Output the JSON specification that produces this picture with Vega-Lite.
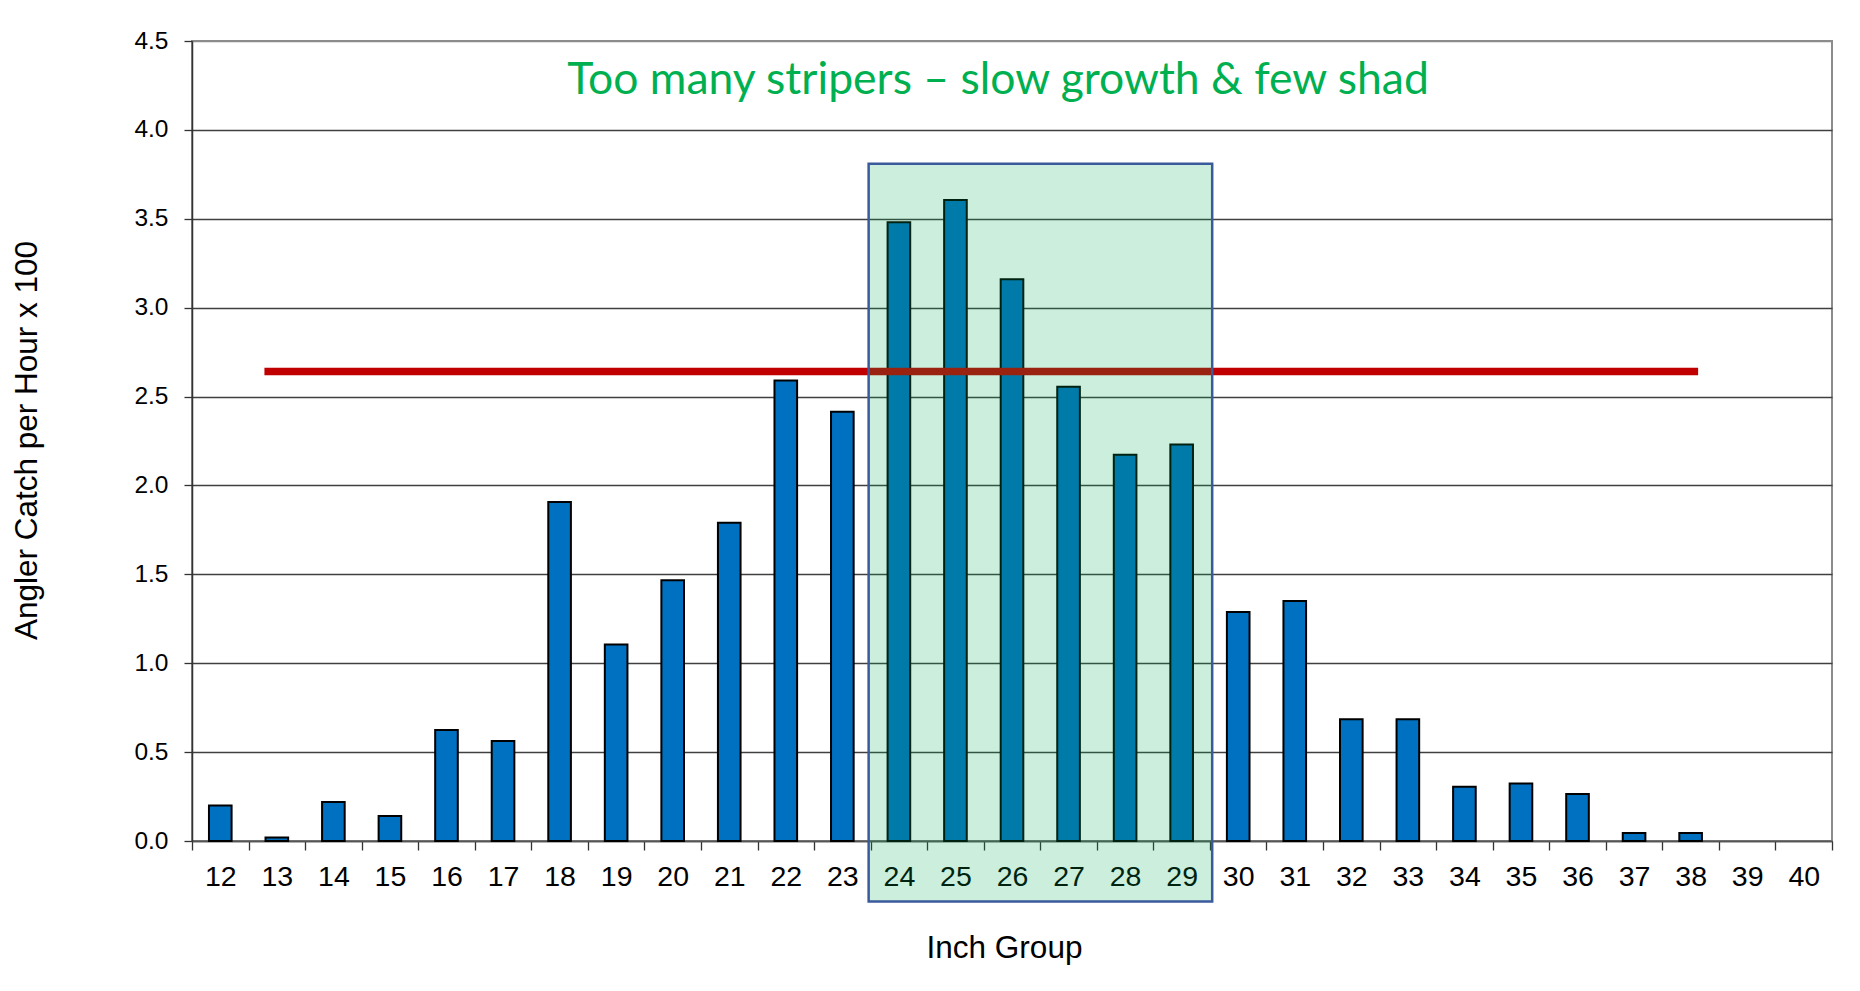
{
  "$schema": "https://vega.github.io/schema/vega-lite/v6.json",
  "width": 1640,
  "height": 800,
  "autosize": {"type": "none"},
  "padding": {"left": 192, "top": 41, "right": 28, "bottom": 150},
  "background": "white",
  "config": {
    "view": {"stroke": "#8c8c8c", "strokeWidth": 2},
    "font": "Liberation Sans, Arial, sans-serif"
  },
  "data": {
    "values": [
      {"inch": 12, "catch": 0.20},
      {"inch": 13, "catch": 0.02},
      {"inch": 14, "catch": 0.22},
      {"inch": 15, "catch": 0.14},
      {"inch": 16, "catch": 0.624},
      {"inch": 17, "catch": 0.562},
      {"inch": 18, "catch": 1.907},
      {"inch": 19, "catch": 1.105},
      {"inch": 20, "catch": 1.467},
      {"inch": 21, "catch": 1.79},
      {"inch": 22, "catch": 2.59},
      {"inch": 23, "catch": 2.414},
      {"inch": 24, "catch": 3.48},
      {"inch": 25, "catch": 3.605},
      {"inch": 26, "catch": 3.16},
      {"inch": 27, "catch": 2.555},
      {"inch": 28, "catch": 2.173},
      {"inch": 29, "catch": 2.231},
      {"inch": 30, "catch": 1.288},
      {"inch": 31, "catch": 1.35},
      {"inch": 32, "catch": 0.685},
      {"inch": 33, "catch": 0.685},
      {"inch": 34, "catch": 0.305},
      {"inch": 35, "catch": 0.324},
      {"inch": 36, "catch": 0.264},
      {"inch": 37, "catch": 0.045},
      {"inch": 38, "catch": 0.045},
      {"inch": 39, "catch": 0},
      {"inch": 40, "catch": 0}
    ]
  },
  "layer": [
    {
      "mark": {"type": "bar", "fill": "#0070C0", "stroke": "#000000", "width": {"band": 0.4}},
      "encoding": {
        "x": {
          "field": "inch",
          "type": "ordinal",
          "sort": null,
          "title": "Inch Group",
          "scale": {"paddingInner": 0, "paddingOuter": 0},
          "axis": {
            "labelAngle": 0,
            "labelFontSize": 28.5,
            "labelColor": "#000000",
            "labelPadding": 12.5,
            "tickSize": 9,
            "tickBand": "extent",
            "tickColor": "#333333",
            "tickWidth": 1.3,
            "domainColor": "#555555",
            "domainWidth": 1.5,
            "grid": false,
            "titleFontSize": 31.5,
            "titleFontWeight": "normal",
            "titleColor": "#000000",
            "titleX": 812,
            "titleY": 116.6,
            "titleBaseline": "alphabetic",
            "titleAlign": "center"
          }
        },
        "y": {
          "field": "catch",
          "type": "quantitative",
          "title": "Angler Catch per Hour x 100",
          "scale": {"domain": [0, 4.5], "nice": false, "zero": true},
          "axis": {
            "values": [0, 0.5, 1, 1.5, 2, 2.5, 3, 3.5, 4, 4.5],
            "format": ".1f",
            "labelFontSize": 24.5,
            "labelColor": "#000000",
            "labelPadding": 16,
            "tickSize": 8,
            "tickColor": "#333333",
            "tickWidth": 1.3,
            "domainColor": "#333333",
            "domainWidth": 1.5,
            "grid": true,
            "gridColor": {"condition": {"test": "datum.value >= 4.5", "value": "#8c8c8c"}, "value": "#404040"},
            "gridWidth": 1.3,
            "titleFontSize": 31.5,
            "titleFontWeight": "normal",
            "titleColor": "#000000",
            "titleAngle": -90,
            "titleX": -165,
            "titleY": 399,
            "titleBaseline": "middle",
            "titleAlign": "center"
          }
        },
        "strokeWidth": {"condition": {"test": "datum.catch == 0", "value": 0}, "value": 2}
      }
    },
    {
      "data": {"values": [{}]},
      "mark": {"type": "rule", "color": "#C00000", "strokeWidth": 7.3, "strokeCap": "butt", "xOffset": -12.4, "x2Offset": 7.5},
      "encoding": {
        "x": {"datum": 13, "type": "ordinal"},
        "x2": {"datum": 38},
        "y": {"datum": 2.641, "type": "quantitative"}
      }
    },
    {
      "data": {"values": [{}]},
      "mark": {"type": "text", "font": "Lato", "fontSize": 44.5, "color": "#00B050", "baseline": "alphabetic", "align": "center", "dx": -14},
      "encoding": {
        "x": {"datum": 26, "type": "ordinal"},
        "y": {"datum": 4.204, "type": "quantitative"},
        "text": {"value": "Too many stripers – slow growth & few shad"}
      }
    },
    {
      "data": {"values": [{}]},
      "mark": {"type": "rect", "fill": "#00AA50", "fillOpacity": 0.2, "stroke": "#3A5A9C", "strokeWidth": 2.5},
      "encoding": {
        "x": {"datum": 24, "type": "ordinal", "bandPosition": -0.035},
        "x2": {"datum": 29, "bandPosition": 1.04},
        "y": {"datum": 3.81, "type": "quantitative"},
        "y2": {"datum": -0.34}
      }
    }
  ]
}
